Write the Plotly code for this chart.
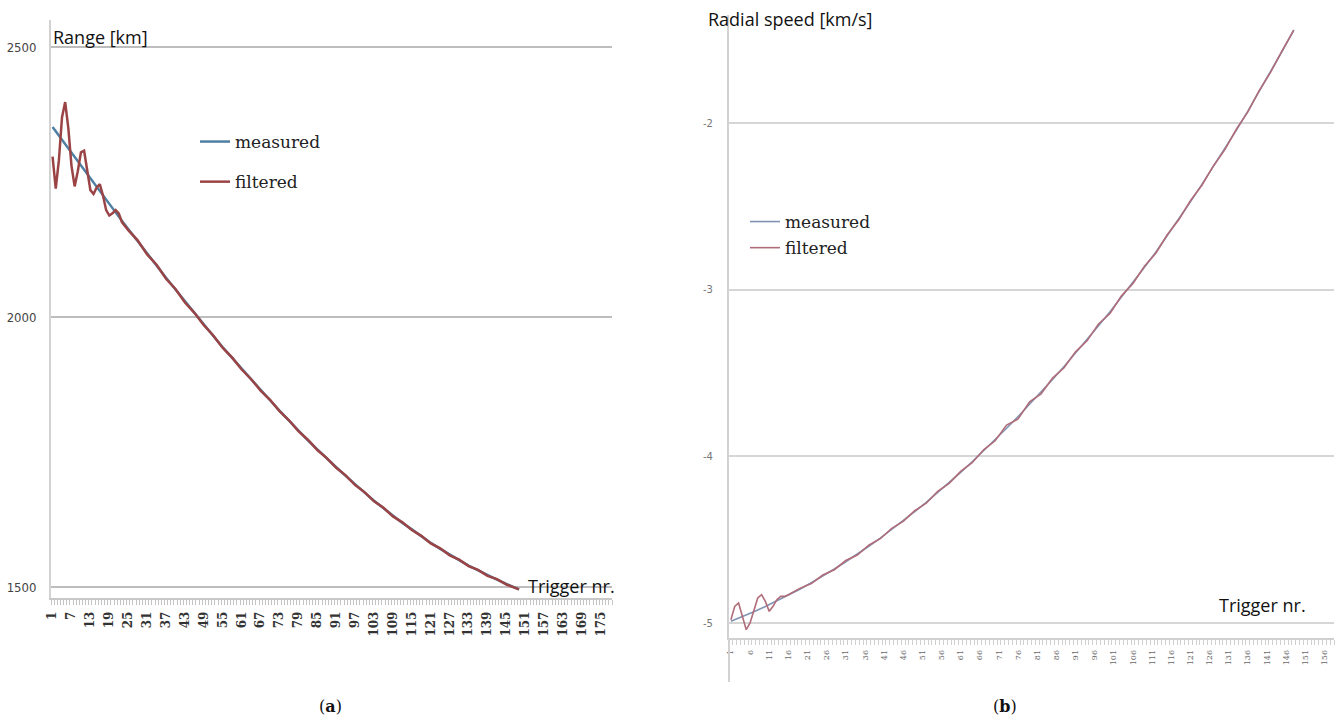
import plotly.graph_objects as go

# ---------------- data: panel (a) Range [km] ----------------
a_meas_x = [1, 4, 7, 10, 13, 16, 19, 22, 25, 28, 31, 34, 37, 40, 43, 46, 49, 52, 55, 58,
            61, 64, 67, 70, 73, 76, 79, 82, 85, 88, 91, 94, 97, 100, 103, 106, 109, 112,
            115, 118, 121, 124, 127, 130, 133, 136, 139, 142, 145, 148, 149]
a_meas_y = [2352, 2328, 2304, 2280, 2256, 2233, 2209, 2186, 2163, 2140, 2118, 2095, 2073,
            2051, 2029, 2007, 1986, 1965, 1944, 1924, 1904, 1884, 1865, 1846, 1827, 1808,
            1790, 1772, 1755, 1738, 1722, 1706, 1690, 1675, 1660, 1646, 1632, 1619, 1607,
            1594, 1582, 1571, 1560, 1550, 1540, 1531, 1522, 1514, 1506, 1498, 1496]

a_filt_x = [1, 2, 3, 4, 5, 6, 7, 8, 9, 10, 11, 12, 13, 14, 15, 16, 17, 18, 19, 20, 21, 22, 23,
            25, 28, 31, 34, 37, 40, 43, 46, 49, 52, 55, 58, 61, 64, 67, 70, 73, 76, 79, 82,
            85, 88, 91, 94, 97, 100, 103, 106, 109, 112, 115, 118, 121, 124, 127, 130, 133,
            136, 139, 142, 145, 148, 149]
a_filt_y = [2297, 2238, 2290, 2370, 2398, 2350, 2280, 2242, 2270, 2305, 2308, 2270, 2235,
            2228, 2240, 2246, 2225, 2198, 2188, 2192, 2198, 2192, 2176,
            2161, 2142, 2116, 2097, 2071, 2052, 2027, 2008, 1985, 1966, 1943, 1925, 1903,
            1885, 1864, 1847, 1826, 1809, 1789, 1773, 1754, 1739, 1721, 1707, 1689, 1676,
            1659, 1647, 1631, 1620, 1606, 1595, 1581, 1572, 1559, 1551, 1539, 1532, 1521,
            1515, 1505, 1499, 1496]

a_tick_vals = [1, 7, 13, 19, 25, 31, 37, 43, 49, 55, 61, 67, 73, 79, 85, 91, 97, 103, 109,
               115, 121, 127, 133, 139, 145, 151, 157, 163, 169, 175]
a_tick_text = [str(v) for v in a_tick_vals]
a_y_ticks = [1500, 2000, 2500]
a_y_text = ["1500", "2000", "2500"]

# ---------------- data: panel (b) Radial speed [km/s] ----------------
b_meas_x = [1, 4, 7, 10, 13, 16, 19, 22, 25, 28, 31, 34, 37, 40, 43, 46, 49, 52, 55, 58,
            61, 64, 67, 70, 73, 76, 79, 82, 85, 88, 91, 94, 97, 100, 103, 106, 109, 112,
            115, 118, 121, 124, 127, 130, 133, 136, 139, 142, 145, 148]
b_meas_y = [-4.990, -4.962, -4.933, -4.901, -4.868, -4.834, -4.797, -4.758, -4.718, -4.676,
            -4.632, -4.587, -4.539, -4.490, -4.439, -4.386, -4.332, -4.276, -4.217, -4.157,
            -4.096, -4.032, -3.967, -3.900, -3.831, -3.760, -3.688, -3.614, -3.538, -3.460,
            -3.380, -3.299, -3.216, -3.131, -3.044, -2.955, -2.865, -2.773, -2.674, -2.573,
            -2.471, -2.367, -2.261, -2.153, -2.041, -1.927, -1.808, -1.688, -1.566, -1.440]

b_filt_x = [1, 2, 3, 4, 5, 6, 7, 8, 9, 10, 11, 12, 13, 14, 15, 16,
            19, 22, 25, 28, 31, 34, 37, 40, 43, 46, 49, 52, 55, 58, 61, 64, 67, 70, 73, 76,
            79, 82, 85, 88, 91, 94, 97, 100, 103, 106, 109, 112, 115, 118, 121, 124, 127,
            130, 133, 136, 139, 142, 145, 148]
b_filt_y = [-4.98, -4.90, -4.88, -4.96, -5.04, -5.00, -4.92, -4.85, -4.83, -4.87, -4.93,
            -4.90, -4.86, -4.84, -4.84, -4.83,
            -4.792, -4.763, -4.712, -4.680, -4.625, -4.592, -4.533, -4.494, -4.432, -4.390,
            -4.326, -4.281, -4.210, -4.162, -4.090, -4.038, -3.960, -3.906, -3.812, -3.775,
            -3.672, -3.624, -3.530, -3.468, -3.372, -3.306, -3.205, -3.142, -3.036, -2.962,
            -2.858, -2.779, -2.668, -2.578, -2.465, -2.372, -2.256, -2.158, -2.036, -1.932,
            -1.803, -1.692, -1.562, -1.442]

b_tick_vals = [1, 6, 11, 16, 21, 26, 31, 36, 41, 46, 51, 56, 61, 66, 71, 76, 81, 86, 91, 96,
               101, 106, 111, 116, 121, 126, 131, 136, 141, 146, 151, 156]
b_tick_text = [str(v) for v in b_tick_vals]
b_y_ticks = [-5, -4, -3, -2]
b_y_text = ["-5", "-4", "-3", "-2"]

series_names = ["measured", "filtered"]

# ---------------- figure ----------------
W, H = 1336, 727
fig = go.Figure()

fig.add_trace(go.Scatter(x=a_meas_x, y=a_meas_y, mode="lines", name=series_names[0],
                         line=dict(color="#4f7fa3", width=2.5), xaxis="x", yaxis="y",
                         legend="legend", legendgroup="a1"))
fig.add_trace(go.Scatter(x=a_filt_x, y=a_filt_y, mode="lines", name=series_names[1],
                         line=dict(color="#9b4446", width=2.5), xaxis="x", yaxis="y",
                         legend="legend", legendgroup="a2"))
fig.add_trace(go.Scatter(x=b_meas_x, y=b_meas_y, mode="lines", name=series_names[0],
                         line=dict(color="#8093b3", width=1.6), xaxis="x2", yaxis="y2",
                         legend="legend2", legendgroup="b1"))
fig.add_trace(go.Scatter(x=b_filt_x, y=b_filt_y, mode="lines", name=series_names[1],
                         line=dict(color="#b06c78", width=1.6), xaxis="x2", yaxis="y2",
                         legend="legend2", legendgroup="b2"))


def px_x(p):
    return p / W


def px_y(p):
    return 1 - p / H


axis_grey = "#d2d2d2"

fig.update_layout(
    width=W, height=H,
    margin=dict(l=0, r=0, t=0, b=0, autoexpand=False),
    paper_bgcolor="white", plot_bgcolor="white",
    showlegend=True,
    xaxis=dict(
        domain=[px_x(51), px_x(612)], range=[0.5, 178.5], anchor="y", automargin=False,
        tickmode="array", tickvals=a_tick_vals, ticktext=a_tick_text, tickangle=-90,
        ticks="outside", ticklen=7, tickcolor="rgba(0,0,0,0)",
        tickfont=dict(family="DejaVu Serif", size=12, color="#333", weight=700),
        showgrid=False, zeroline=False, showline=True, linecolor="#c8c8c8", linewidth=1.5,
        minor=dict(tickmode="linear", tick0=0.5, dtick=1, ticks="outside", ticklen=5,
                   tickcolor="#c4c4c4", tickwidth=1, showgrid=False),
    ),
    yaxis=dict(
        domain=[px_y(598), px_y(20)], range=[1480, 2550], anchor="x", automargin=False,
        tickmode="array", tickvals=a_y_ticks, ticktext=a_y_text, ticks="",
        ticklabelstandoff=10,
        tickfont=dict(family="Liberation Sans Narrow, DejaVu Sans Condensed, sans-serif",
                      size=13, color="#444"),
        showgrid=True, gridcolor="#bdbdbd", gridwidth=1.5, zeroline=False,
        showline=True, linecolor=axis_grey, linewidth=2,
    ),
    xaxis2=dict(
        domain=[px_x(729), px_x(1334)], range=[0.5, 158.5], anchor="y2", automargin=False,
        tickmode="array", tickvals=b_tick_vals, ticktext=b_tick_text, tickangle=-90,
        ticks="outside", ticklen=7, tickcolor="rgba(0,0,0,0)",
        tickfont=dict(family="DejaVu Serif", size=8, color="#666"),
        showgrid=False, zeroline=False, showline=True, linecolor="#d0d0d0", linewidth=1.5,
        minor=dict(tickmode="linear", tick0=0.5, dtick=1, ticks="outside", ticklen=5,
                   tickcolor="#d0d0d0", tickwidth=1, showgrid=False),
    ),
    yaxis2=dict(
        domain=[px_y(638), px_y(15)], range=[-5.09, -1.35], anchor="x2", automargin=False,
        tickmode="array", tickvals=b_y_ticks, ticktext=b_y_text, ticks="",
        ticklabelstandoff=12,
        tickfont=dict(family="DejaVu Sans", size=10, color="#777"),
        showgrid=True, gridcolor="#d6d6d6", gridwidth=2, zeroline=False,
        showline=True, linecolor=axis_grey, linewidth=2,
    ),
    legend=dict(
        x=px_x(195), y=px_y(124), xanchor="left", yanchor="top",
        font=dict(family="DejaVu Serif", size=17, color="#222"),
        bgcolor="rgba(0,0,0,0)", traceorder="grouped", tracegroupgap=15, itemwidth=30,
    ),
    legend2=dict(
        x=px_x(745), y=px_y(204), xanchor="left", yanchor="top",
        font=dict(family="DejaVu Serif", size=17, color="#222"),
        bgcolor="rgba(0,0,0,0)", traceorder="grouped", tracegroupgap=1, itemwidth=30,
    ),
)

title_font = dict(family="Open Sans, sans-serif", size=18, color="#111")
anns = [
    dict(text="Range [km]", x=px_x(51), y=px_y(37)),
    dict(text="Trigger nr.", x=px_x(526), y=px_y(586)),
    dict(text="Radial speed [km/s]", x=px_x(706), y=px_y(19)),
    dict(text="Trigger nr.", x=px_x(1217), y=px_y(605)),
]
for a in anns:
    fig.add_annotation(xref="paper", yref="paper", xanchor="left", yanchor="middle",
                       showarrow=False, font=title_font, **a)

cap_font = dict(family="DejaVu Serif", size=16, color="#111")
fig.add_annotation(text="(<b>a</b>)", x=px_x(330), y=px_y(706), xref="paper", yref="paper",
                   xanchor="center", yanchor="middle", showarrow=False, font=cap_font)
fig.add_annotation(text="(<b>b</b>)", x=px_x(1005), y=px_y(706), xref="paper", yref="paper",
                   xanchor="center", yanchor="middle", showarrow=False, font=cap_font)

# right panel: vertical axis line continues below the category labels
fig.add_shape(type="line", xref="x2 domain", yref="paper", x0=0, x1=0,
              y0=px_y(638), y1=px_y(682), line=dict(color=axis_grey, width=2))

fig.write_html("out.html", config={"displayModeBar": False},
               post_script="document.body.style.margin='0';document.body.style.overflow='hidden';")
